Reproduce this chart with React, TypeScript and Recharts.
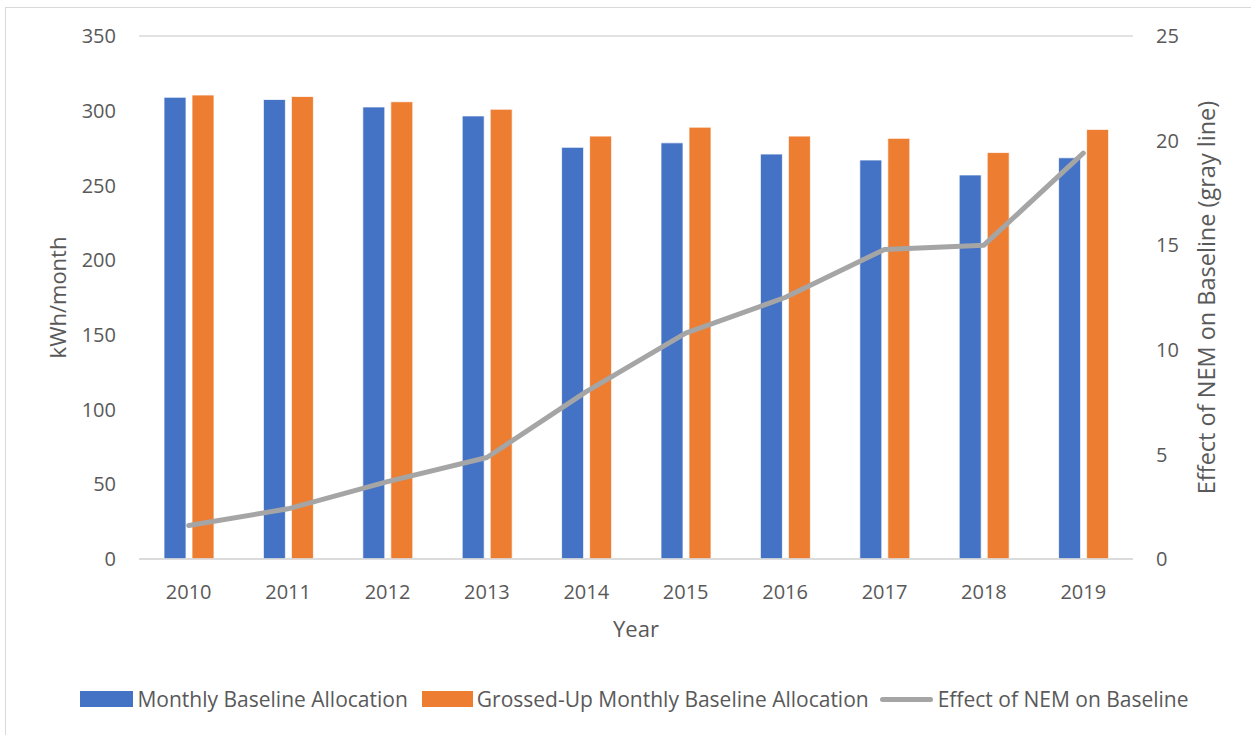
import React from "react";
import { ComposedChart, Bar, Line, XAxis, YAxis, CartesianGrid } from "recharts";

const years = ["2010", "2011", "2012", "2013", "2014", "2015", "2016", "2017", "2018", "2019"];
const baseline = [309, 307.5, 302.5, 296.5, 275.5, 278.5, 271, 267, 257, 268.5];
const grossedUp = [310.5, 309.5, 306, 301, 283, 289, 283, 281.5, 272, 287.5];
const nemEffect = [1.6, 2.4, 3.7, 4.85, 8.0, 10.8, 12.5, 14.8, 15.0, 19.4];
const leftTicks = [0, 50, 100, 150, 200, 250, 300, 350];
const rightTicks = [0, 5, 10, 15, 20, 25];

const data = years.map((year, i) => ({
  year,
  baseline: baseline[i],
  grossedUp: grossedUp[i],
  nem: nemEffect[i],
}));

const FONT = "'Open Sans', sans-serif";
const TEXT = "#595959";
const tickStyle = { fill: TEXT, fontSize: 20, fontFamily: FONT };

export default function App() {
  return (
    <div style={{ position: "absolute", left: 0, top: 0, width: 1251, height: 735, overflow: "hidden", background: "#fff" }}>
      <div style={{ position: "absolute", left: 5, top: 7, width: 1300, height: 760, border: "1.5px solid #d9d9d9" }} />
      <ComposedChart
        width={1251}
        height={735}
        data={data}
        margin={{ top: 36, right: 0, bottom: 0, left: 0 }}
        barSize={22}
        barGap={6}
      >
        <CartesianGrid vertical={false} stroke="#d9d9d9" strokeWidth={1.5} />
        <XAxis
          dataKey="year"
          height={176}
          axisLine={{ stroke: "#d9d9d9", strokeWidth: 1.5 }}
          tickLine={false}
          tickSize={0}
          tickMargin={26}
          tick={tickStyle}
          label={{ value: "Year", position: "insideBottom", offset: 98, style: { fill: TEXT, fontSize: 22, fontFamily: FONT } }}
        />
        <YAxis
          yAxisId="left"
          width={139}
          domain={[0, 350]}
          ticks={leftTicks}
          axisLine={false}
          tickLine={false}
          tickSize={0}
          tickMargin={23}
          tick={tickStyle}
          label={{ value: "kWh/month", angle: -90, position: "insideLeft", offset: 58, style: { textAnchor: "middle", fill: TEXT, fontSize: 22, fontFamily: FONT } }}
        />
        <YAxis
          yAxisId="right"
          orientation="right"
          width={118}
          domain={[0, 25]}
          ticks={rightTicks}
          axisLine={false}
          tickLine={false}
          tickSize={0}
          tickMargin={23}
          tick={tickStyle}
          label={{ value: "Effect of NEM on Baseline (gray line)", angle: -90, position: "insideRight", offset: 44, style: { textAnchor: "middle", fill: TEXT, fontSize: 23.5, fontFamily: FONT } }}
        />
        <Bar yAxisId="left" dataKey="baseline" fill="#4472c4" stroke="#fff" strokeWidth={0.75} isAnimationActive={false} />
        <Bar yAxisId="left" dataKey="grossedUp" fill="#ed7d31" stroke="#fff" strokeWidth={0.75} isAnimationActive={false} />
        <Line
          yAxisId="right"
          dataKey="nem"
          type="linear"
          stroke="#a5a5a5"
          strokeWidth={5}
          strokeLinecap="round"
          strokeLinejoin="round"
          dot={false}
          activeDot={false}
          isAnimationActive={false}
        />
      </ComposedChart>
      <div
        style={{
          position: "absolute",
          left: 0,
          top: 685,
          width: 1269,
          display: "flex",
          justifyContent: "center",
          alignItems: "center",
          fontFamily: FONT,
          fontSize: 21,
          color: TEXT,
          whiteSpace: "nowrap",
        }}
      >
        <span style={{ display: "inline-block", width: 53, height: 16, background: "#4472c4", marginRight: 4 }} />
        <span style={{ marginRight: 14 }}>Monthly Baseline Allocation</span>
        <span style={{ display: "inline-block", width: 51, height: 16, background: "#ed7d31", marginRight: 4 }} />
        <span style={{ marginRight: 11 }}>Grossed-Up Monthly Baseline Allocation</span>
        <span style={{ display: "inline-block", width: 53, height: 5, borderRadius: 3, background: "#a5a5a5", marginRight: 5 }} />
        <span>Effect of NEM on Baseline</span>
      </div>
    </div>
  );
}
